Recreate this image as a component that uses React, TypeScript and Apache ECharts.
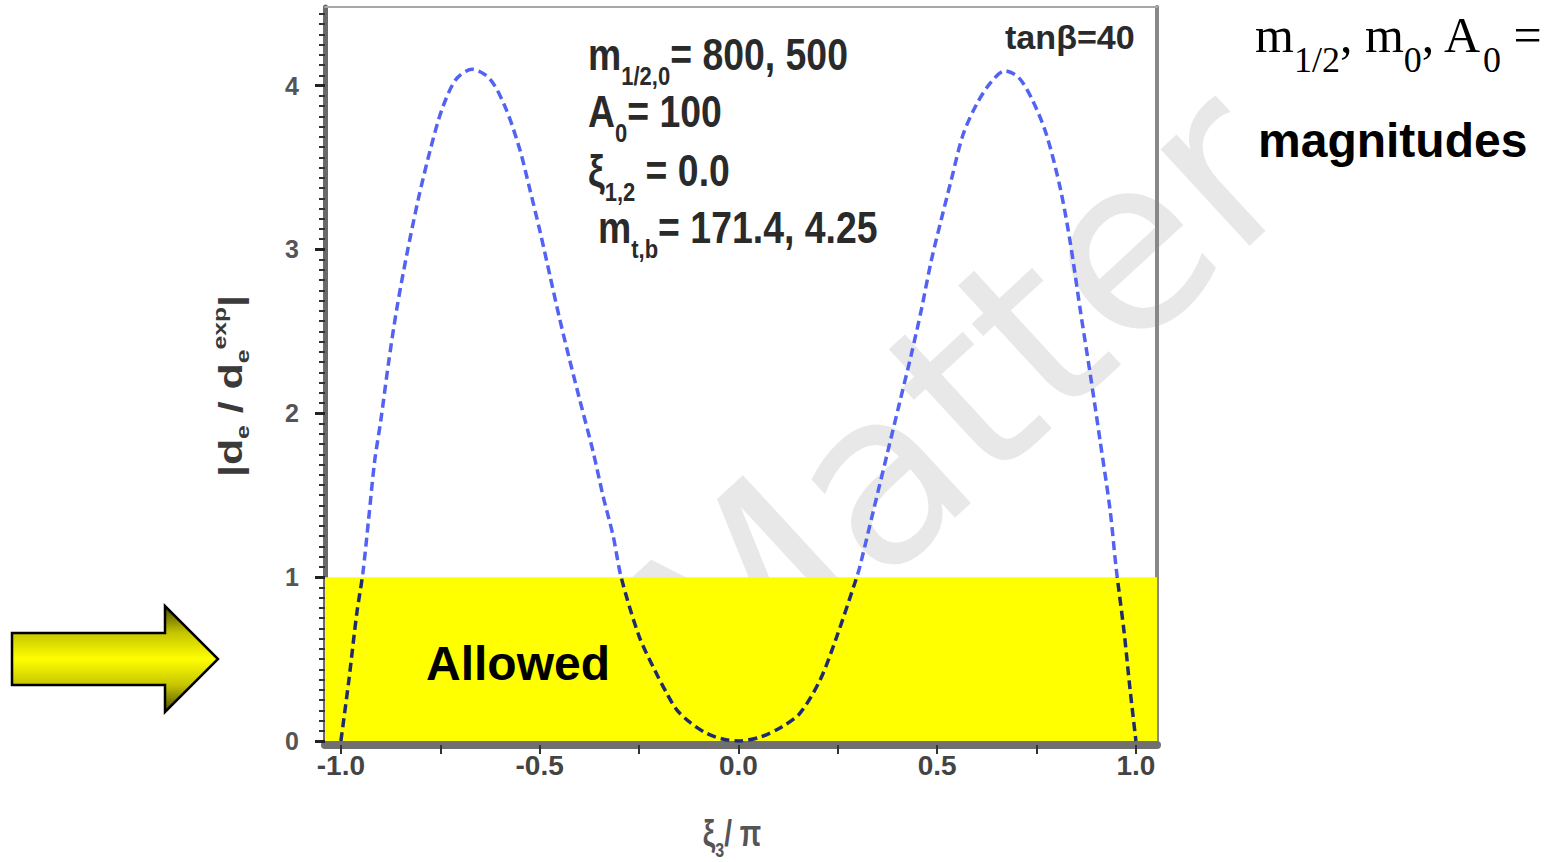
import React, { useEffect, useRef } from 'react';
import * as echarts from 'echarts';

// ---- data ----
const xi3OverPi = [
  -1.0, -0.98, -0.96, -0.945, -0.93, -0.915, -0.9, -0.88, -0.86, -0.835, -0.805, -0.775, -0.745, -0.71,
  -0.67, -0.625, -0.585, -0.55, -0.525, -0.5, -0.475, -0.45, -0.425, -0.4, -0.365, -0.34, -0.315, -0.295,
  -0.25, -0.21, -0.18, -0.155, -0.12, -0.08, -0.04, 0.0, 0.055, 0.11, 0.155, 0.205, 0.245, 0.295, 0.305,
  0.34, 0.375, 0.405, 0.435, 0.46, 0.485, 0.51, 0.535, 0.565, 0.6, 0.635, 0.67, 0.705, 0.74, 0.775, 0.81,
  0.835, 0.86, 0.885, 0.91, 0.935, 0.95, 0.97, 0.985, 1.0,
];
const edmRatio = [
  0.0, 0.37, 0.78, 1.02, 1.36, 1.71, 1.95, 2.31, 2.63, 2.96, 3.31, 3.61, 3.86, 4.04,
  4.1, 4.04, 3.86, 3.61, 3.37, 3.12, 2.85, 2.58, 2.33, 2.09, 1.76, 1.49, 1.25, 1.0,
  0.64, 0.43, 0.29, 0.19, 0.11, 0.047, 0.012, 0.0, 0.024, 0.087, 0.17, 0.37, 0.62, 0.98, 1.06,
  1.41, 1.76, 2.06, 2.36, 2.63, 2.93, 3.18, 3.42, 3.7, 3.89, 4.02, 4.09, 4.05, 3.91, 3.7, 3.37,
  3.04, 2.63, 2.24, 1.83, 1.41, 1.06, 0.67, 0.32, 0.0,
];
const xTickValues = [-1, -0.75, -0.5, -0.25, 0, 0.25, 0.5, 0.75, 1];
const xLabelValues = [-1, -0.5, 0, 0.5, 1];
const yLabelValues = [0, 1, 2, 3, 4];
const xRange = [-1.04, 1.053];
const yRange = [0, 4.48];
const allowedBand = [0, 1];

const SANS = 'Liberation Sans';
const SERIF = 'Liberation Serif';

export default function App() {
  const ref = useRef<HTMLDivElement>(null);

  useEffect(() => {
    const chart = echarts.init(ref.current as HTMLDivElement, null, { renderer: 'svg' });

    const annoRich: any = {
      b: { fontSize: 34, fontWeight: 'bold', fontFamily: SANS, lineHeight: 36, verticalAlign: 'top', fill: '#2a2a2a' },
      s: { fontSize: 20, fontWeight: 'bold', fontFamily: SANS, lineHeight: 22, padding: [23, 0, 0, 0], verticalAlign: 'top', fill: '#2a2a2a' },
    };
    const anno = (x: number, y: number, text: string) => ({
      type: 'text', x, y, scaleX: 1.1, scaleY: 1.3, z: 10, silent: true,
      style: { text, rich: annoRich, align: 'left', verticalAlign: 'top' },
    });

    const option: any = {
      animation: false,
      backgroundColor: '#ffffff',
      grid: { left: 325, right: 398, top: 7, bottom: 121, containLabel: false },
      xAxis: [
        {
          type: 'value', min: xRange[0], max: xRange[1], offset: 4,
          axisLine: { show: true, onZero: false, lineStyle: { color: '#707070', width: 8 } },
          axisTick: { show: true, customValues: xTickValues, length: 9, lineStyle: { color: '#333', width: 2 } },
          axisLabel: {
            customValues: xLabelValues,
            formatter: (v: number) => (Math.abs(v * 2 - Math.round(v * 2)) < 1e-6 ? v.toFixed(1) : ''),
            margin: 6, fontSize: 28, fontWeight: 'bold', color: '#444', fontFamily: SANS,
          },
          splitLine: { show: false },
        },
        {
          type: 'value', position: 'top', min: xRange[0], max: xRange[1],
          axisLine: { show: true, onZero: false, lineStyle: { color: '#a8a8a8', width: 2 } },
          axisTick: { show: false }, axisLabel: { show: false }, splitLine: { show: false },
        },
      ],
      yAxis: [
        {
          type: 'value', min: yRange[0], max: yRange[1], interval: 1,
          axisLine: { show: true, onZero: false, lineStyle: { color: '#6a6a6a', width: 5 } },
          axisTick: { show: true, customValues: yLabelValues, length: 10, lineStyle: { color: '#222', width: 3 } },
          minorTick: { show: true, splitNumber: 16, length: 6, lineStyle: { color: '#333', width: 2 } },
          axisLabel: {
            customValues: yLabelValues,
            formatter: (v: number) => (Math.abs(v - Math.round(v)) < 1e-6 ? String(v) : ''),
            margin: 26, fontSize: 25, fontWeight: 'bold', color: '#555', fontFamily: SANS,
          },
          splitLine: { show: false },
        },
        {
          type: 'value', position: 'right', min: yRange[0], max: yRange[1],
          axisLine: { show: true, onZero: false, lineStyle: { color: '#888', width: 4 } },
          axisTick: { show: false }, axisLabel: { show: false }, splitLine: { show: false },
        },
      ],
      visualMap: {
        type: 'piecewise', show: false, dimension: 1, seriesIndex: 0,
        pieces: [
          { gte: -1, lt: allowedBand[1], color: '#1f2b6e' },
          { gte: allowedBand[1], lte: 10, color: '#5262f2' },
        ],
      },
      series: [
        {
          type: 'line',
          data: xi3OverPi.map((x, i) => [x, edmRatio[i]]),
          smooth: 0.3, symbol: 'none', z: 3, silent: true,
          lineStyle: { width: 3.5, type: [9, 5] },
          markArea: {
            silent: true,
            z: 1,
            itemStyle: { color: '#ffff00', opacity: 1 },
            data: [[{ coord: [xRange[0], allowedBand[0]] }, { coord: [xRange[1], allowedBand[1]] }]],
          },
        },
      ],
      graphic: [
        // watermark
        {
          type: 'text', x: 960, y: 400, rotation: 0.745, z: -1, silent: true,
          style: { text: 'Matter', fontSize: 240, fontFamily: 'DejaVu Sans', fill: '#e8e8e8', align: 'center', verticalAlign: 'middle' },
        },
        // annotations inside the plot
        anno(588, 32.6, '{b|m}{s|1/2,0}{b|= 800, 500}'),
        anno(588, 89.6, '{b|A}{s|0}{b|= 100}'),
        anno(588, 148.6, '{b|ξ}{s|1,2}{b| = 0.0}'),
        anno(598, 205.6, '{b|m}{s|t,b}{b|= 171.4, 4.25}'),
        {
          type: 'text', x: 1005, y: 37, scaleX: 1.1, scaleY: 1.1, z: 10, silent: true,
          style: { text: 'tanβ=40', fontSize: 31, fontWeight: 'bold', fontFamily: SANS, fill: '#2a2a2a', align: 'left', verticalAlign: 'middle' },
        },
        // Allowed
        {
          type: 'text', x: 426, y: 663, z: 10, silent: true,
          style: { text: 'Allowed', fontSize: 48, fontWeight: 'bold', fontFamily: SANS, fill: '#000', align: 'left', verticalAlign: 'middle' },
        },
        // y-axis title
        {
          type: 'text', x: 228, y: 386, rotation: Math.PI / 2, scaleX: 1.3, z: 10, silent: true,
          style: {
            text: '{b||d}{s|e}{b| / d}{s|e}{p|exp}{b||}',
            align: 'center', verticalAlign: 'middle',
            rich: {
              b: { fontSize: 33, fontWeight: 'bold', fontFamily: SANS, lineHeight: 36, padding: [4, 0, 0, 0], verticalAlign: 'top', fill: '#3a3a3a' },
              s: { fontSize: 19, fontWeight: 'bold', fontFamily: SANS, lineHeight: 20, padding: [23, 0, 0, 0], verticalAlign: 'top', fill: '#3a3a3a' },
              p: { fontSize: 19, fontWeight: 'bold', fontFamily: SANS, lineHeight: 20, padding: [0, 0, 0, 0], verticalAlign: 'top', fill: '#3a3a3a' },
            },
          },
        },
        // x-axis title
        {
          type: 'text', x: 732, y: 835, scaleY: 1.3, z: 10, silent: true,
          style: {
            text: '{b|ξ}{s|3}{b|/ π}',
            align: 'center', verticalAlign: 'middle',
            rich: {
              b: { fontSize: 28, fontWeight: 'bold', fontFamily: SANS, lineHeight: 30, padding: [0, 0, 0, 0], verticalAlign: 'top', fill: '#555' },
              s: { fontSize: 16, fontWeight: 'bold', fontFamily: SANS, lineHeight: 18, padding: [18, 0, 0, 0], verticalAlign: 'top', fill: '#555' },
            },
          },
        },
        // arrow
        {
          type: 'polygon', z: 10, silent: true,
          shape: { points: [[12, 633], [165, 633], [165, 606], [218, 659], [165, 712], [165, 685], [12, 685]] },
          style: {
            fill: new echarts.graphic.LinearGradient(0, 0, 0, 1, [
              { offset: 0, color: '#4a4a00' },
              { offset: 0.25, color: '#c4c400' },
              { offset: 0.5, color: '#ffff00' },
              { offset: 0.75, color: '#c4c400' },
              { offset: 1, color: '#4a4a00' },
            ]),
            stroke: '#000', lineWidth: 2.5,
          },
        },
        // right-side texts
        {
          type: 'rect', z: 1, silent: true,
          shape: { x: 1250, y: 14, width: 305, height: 70 },
          style: { fill: '#ffffff' },
        },
        {
          type: 'text', x: 1255, y: 9.5, z: 2, silent: true,
          style: {
            text: '{b|m}{s|1/2}{b|, m}{s|0}{b|, A}{s|0}{b| =}',
            align: 'left', verticalAlign: 'top',
            rich: {
              b: { fontSize: 50, fontFamily: SERIF, lineHeight: 56, padding: [0, 0, 0, 0], verticalAlign: 'top', fill: '#000' },
              s: { fontSize: 36, fontFamily: SERIF, lineHeight: 40, padding: [32, 0, 0, 0], verticalAlign: 'top', fill: '#000' },
            },
          },
        },
        {
          type: 'text', x: 1258, y: 140, z: 2, silent: true,
          style: { text: 'magnitudes', fontSize: 48, fontWeight: 'bold', fontFamily: SANS, fill: '#000', align: 'left', verticalAlign: 'middle' },
        },
      ],
    };

    chart.setOption(option);
    return () => chart.dispose();
  }, []);

  return <div ref={ref} style={{ position: 'absolute', left: 0, top: 0, width: 1555, height: 862 }} />;
}
